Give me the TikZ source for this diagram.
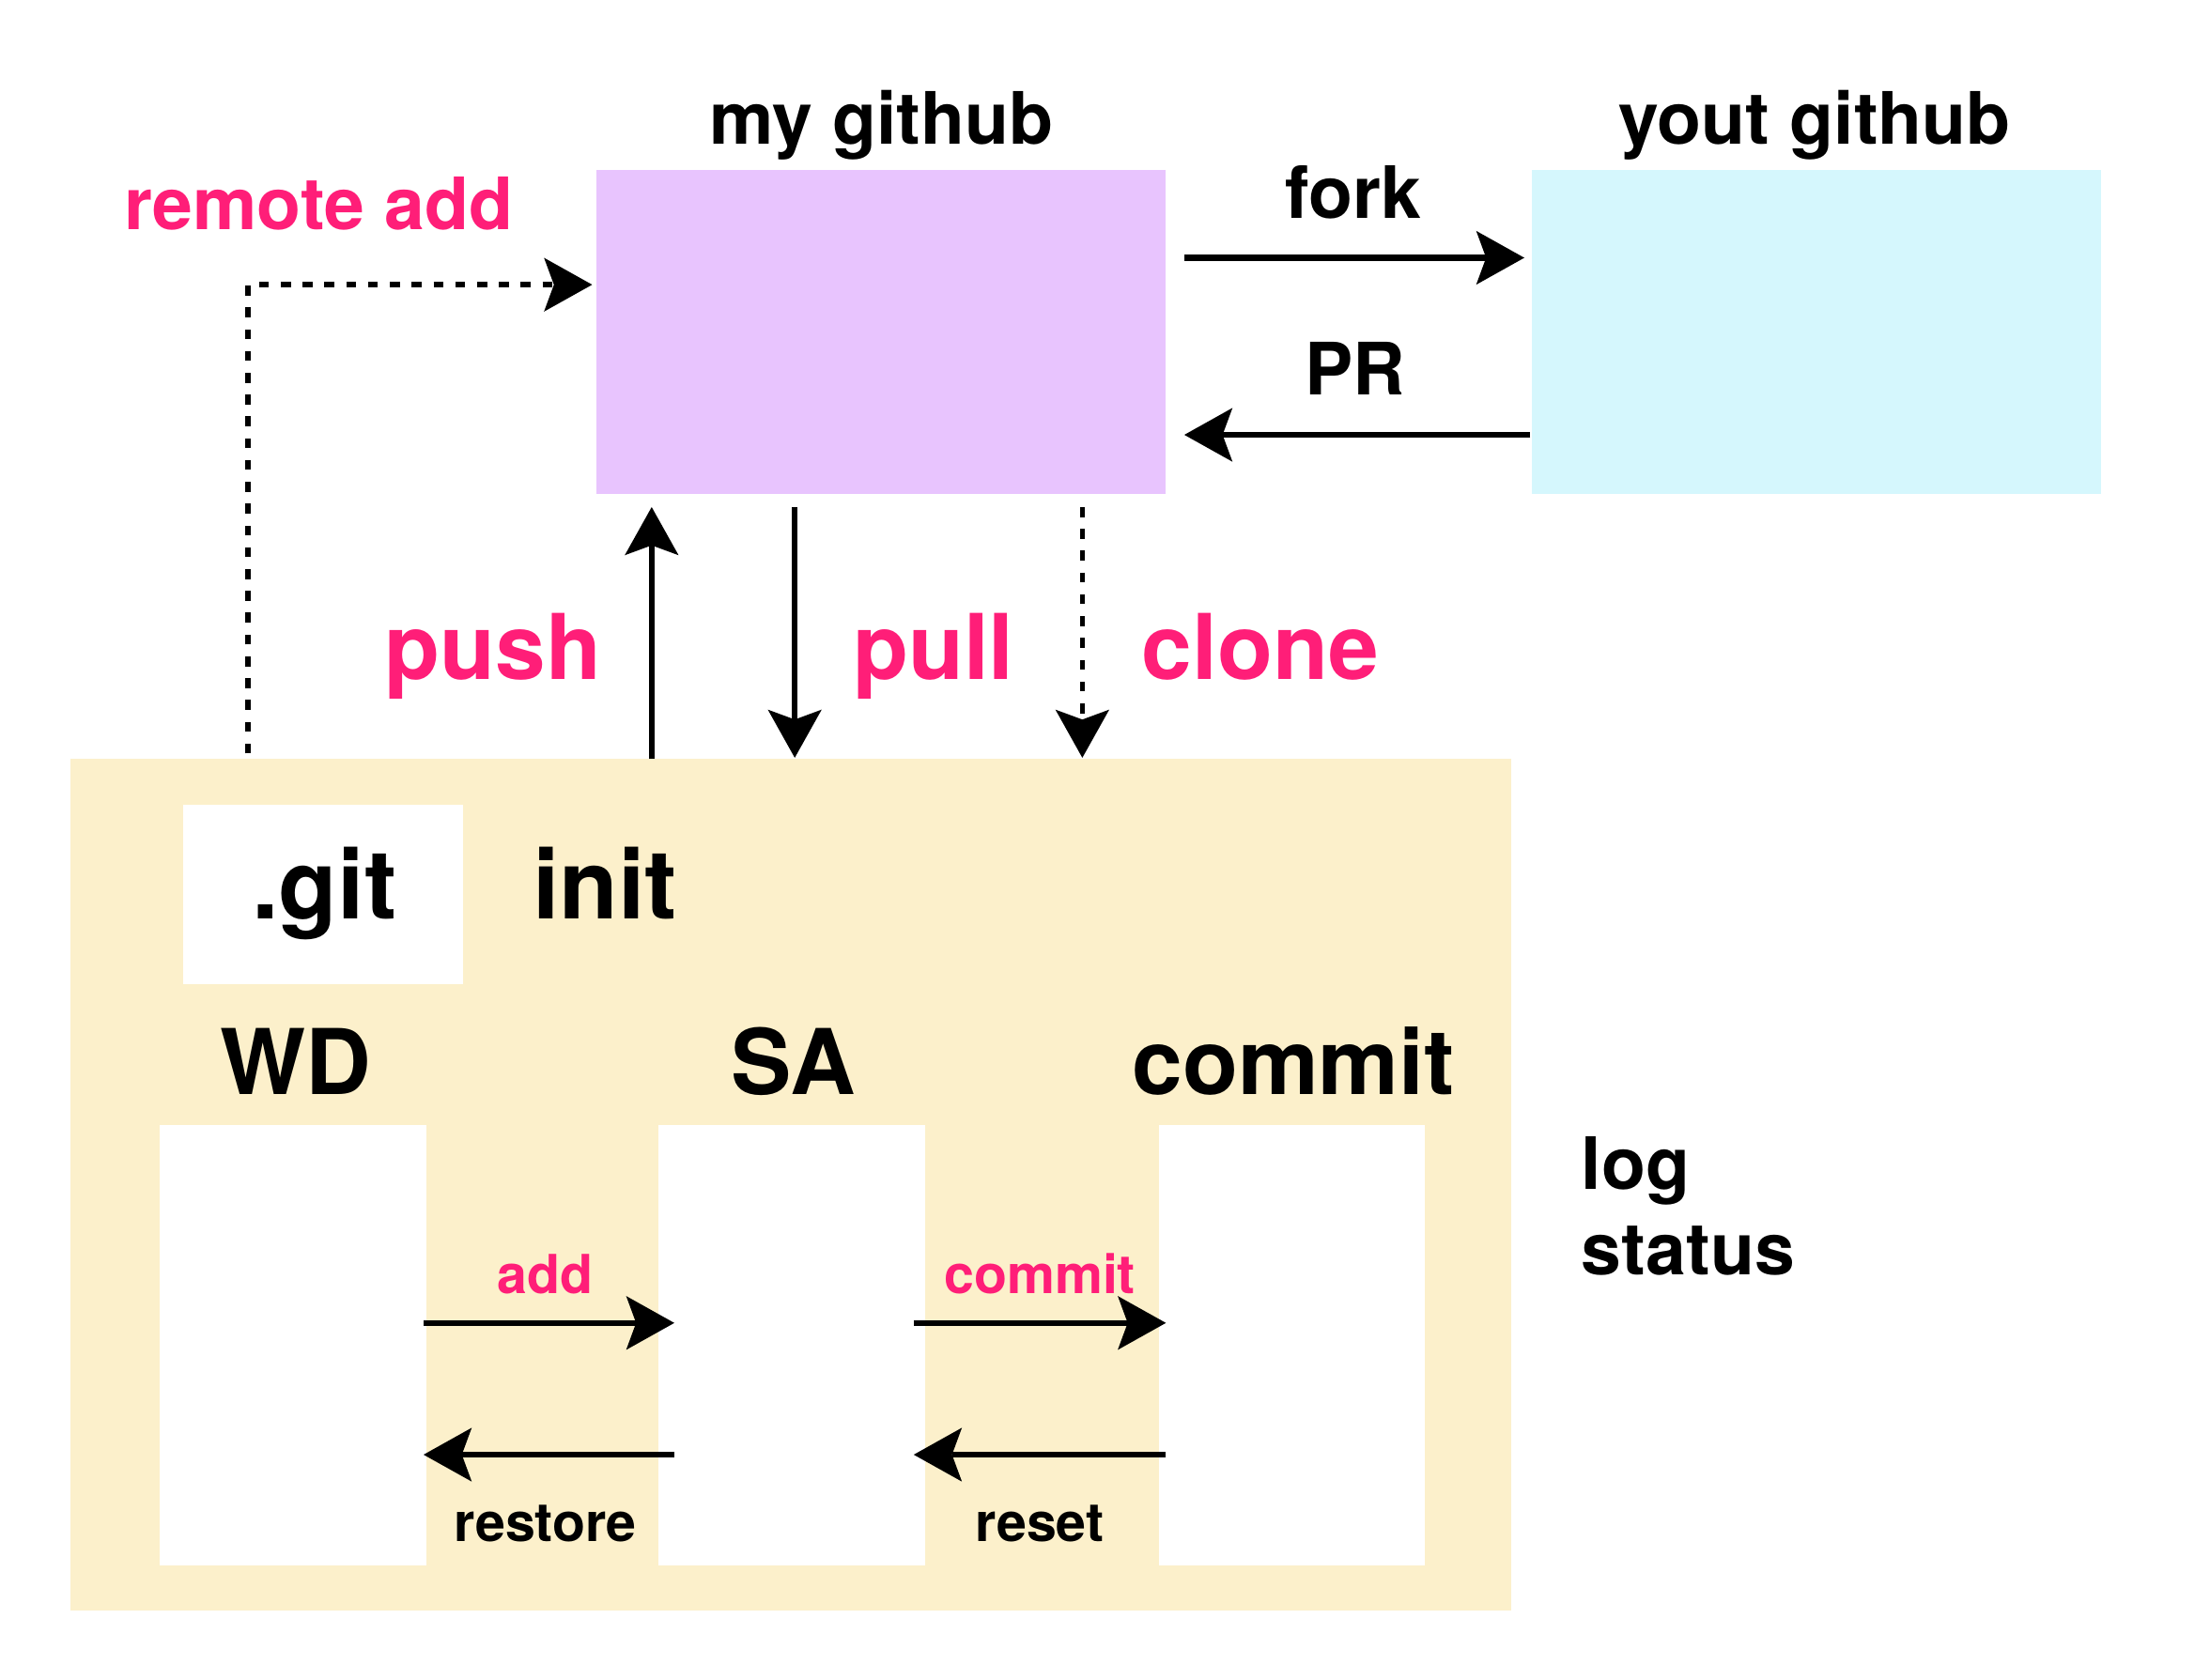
\documentclass[tikz,border=0pt]{standalone}
\usepackage{fontspec}
\setmainfont{TeX Gyre Heros}
\usetikzlibrary{arrows.meta}
\definecolor{mypurple}{HTML}{E8C4FE}
\definecolor{mycyan}{HTML}{D5F7FD}
\definecolor{myyellow}{HTML}{FCF0CB}
\definecolor{mypink}{HTML}{FF1E78}
\tikzset{
  box/.style={draw=none, inner sep=0pt, outer sep=0pt},
  tip/.style={-{Stealth[length=17pt,width=19pt,inset=3.5pt,line width=0pt]}},
  arr/.style={line width=2pt, tip},
  dotarr/.style={line width=1.8pt, dash pattern=on 3.5pt off 4.2pt, tip},
  lblM/.style={anchor=base, inner sep=0pt, font=\bfseries\fontsize{25.5}{30}\selectfont},
  lblL/.style={anchor=base, inner sep=0pt, font=\bfseries\fontsize{32}{38}\selectfont},
  lblXL/.style={anchor=base, inner sep=0pt, font=\bfseries\fontsize{34}{40}\selectfont},
  lblS/.style={anchor=base, inner sep=0pt, font=\bfseries\fontsize{19}{23}\selectfont},
  pink/.style={text=mypink},
}
\begin{document}
\begin{tikzpicture}[x=0.5pt,y=-0.5pt]
\useasboundingbox (0,0) rectangle (1560,1186);
% boxes
\node[box, fill=mypurple, minimum width=201pt, minimum height=114.5pt] (mygh) at (622,234.5) {};
\node[box, fill=mycyan, minimum width=201pt, minimum height=114.5pt] (yourgh) at (1282,234.5) {};
\node[box, fill=myyellow, minimum width=508.5pt, minimum height=300.5pt] (repo) at (558.5,836.5) {};
\node[box, fill=white, minimum width=99pt, minimum height=63.5pt] (gitbox) at (228,631.5) {};
\node[box, fill=white, minimum width=94.25pt, minimum height=155.5pt] (wd) at (206.75,949.5) {};
\node[box, fill=white, minimum width=94pt, minimum height=155.5pt] (sa) at (559,949.5) {};
\node[box, fill=white, minimum width=94pt, minimum height=155.5pt] (cm) at (912,949.5) {};
% labels
\node[lblM] (lmygh) at (622,102) {my github};
\node[lblM] (lyourgh) at (1281,102) {yout github};
\node[lblM,pink] (lremote) at (225,162) {remote add};
\node[lblM] (lfork) at (955,154) {fork};
\node[lblM] (lpr) at (956.5,279) {PR};
\node[lblL,pink] (lpush) at (348,480) {push};
\node[lblL,pink] (lpull) at (659,480) {pull};
\node[lblL,pink] (lclone) at (889.5,480) {clone};
\node[lblXL] (lgit) at (229,649) {.git};
\node[lblXL] (linit) at (427,649) {init};
\node[lblL] (lwd) at (209,773) {WD};
\node[lblL] (lsa) at (560,773) {SA};
\node[lblL] (lcm) at (913,773) {commit};
\node[lblM,anchor=base west] (llog) at (1116,840) {log};
\node[lblM,anchor=base west] (lstatus) at (1116,900) {status};
\node[lblS,pink] (ladd) at (385,913) {add};
\node[lblS,pink] (lcommit) at (734,913) {commit};
\node[lblS] (lrestore) at (385,1088) {restore};
\node[lblS] (lreset) at (734,1088) {reset};
% connectors between remotes
\draw[arr] ([shift={(13,-52.5)}]mygh.east) -- ([shift={(-5,-52.5)}]yourgh.west);
\draw[arr] ([shift={(-1,72.5)}]yourgh.west) -- ([shift={(13,72.5)}]mygh.east);
% remote add
\draw[dotarr] ([shift={(125,-4)}]repo.north west) |- ([shift={(-3,-33.5)}]mygh.west);
% push / pull / clone
\draw[arr] ([shift={(410,0)}]repo.north west) -- ([shift={(-162,9)}]mygh.south);
\draw[arr] ([shift={(-61,9)}]mygh.south) -- ([shift={(511,-1)}]repo.north west);
\draw[dotarr] ([shift={(142,9)}]mygh.south) -- ([shift={(714,-1)}]repo.north west);
% local arrows
\draw[arr] ([shift={(-2,-15.5)}]wd.east) -- ([shift={(11,-15.5)}]sa.west);
\draw[arr] ([shift={(11,77.5)}]sa.west) -- ([shift={(-2,77.5)}]wd.east);
\draw[arr] ([shift={(-8,-15.5)}]sa.east) -- ([shift={(5,-15.5)}]cm.west);
\draw[arr] ([shift={(5,77.5)}]cm.west) -- ([shift={(-8,77.5)}]sa.east);
\end{tikzpicture}
\end{document}
